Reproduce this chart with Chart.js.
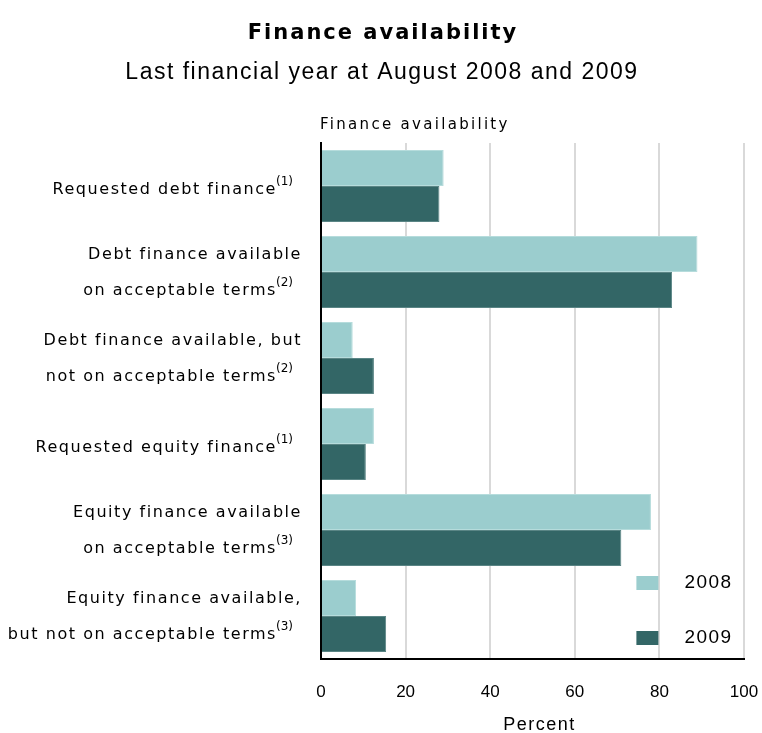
<!DOCTYPE html>
<html>
<head>
<meta charset="utf-8">
<script src="https://cdn.jsdelivr.net/npm/chart.js@4.4.0/dist/chart.umd.min.js"></script>
<style>
  html, body { margin: 0; padding: 0; background: #fff; }
  #chart { display: block; }
</style>
</head>
<body>
<canvas id="chart" width="762" height="733"></canvas>
<script>
// Survey categories, one line of text per entry; the footnote goes on the last line
const categoryLines = [
  ['Requested debt finance'],
  ['Debt finance available', 'on acceptable terms'],
  ['Debt finance available, but', 'not on acceptable terms'],
  ['Requested equity finance'],
  ['Equity finance available', 'on acceptable terms'],
  ['Equity finance available,', 'but not on acceptable terms']
];
const footnotes = ['(1)', '(2)', '(2)', '(1)', '(3)', '(3)'];

const years = ['2008', '2009'];
const values2008 = [29, 89, 7.5, 12.5, 78, 8.3];
const values2009 = [28, 83, 12.5, 10.6, 71, 15.4];
const percentTicks = [0, 20, 40, 60, 80, 100];

const titleText = 'Finance availability';
const subtitleText = 'Last financial year at August 2008 and 2009';
const axisCaption = 'Finance availability';
const xTitle = 'Percent';

const colour2008 = '#9bcdce';
const colour2009 = '#336666';

const labelFont = '"DejaVu Sans", sans-serif';
const plainFont = '"Liberation Sans", Arial, sans-serif';

// titles, category labels, axis title and the legend are drawn by hand
const textPlugin = {
  id: 'financeText',
  afterDraw(chart) {
    const ctx = chart.ctx;
    const area = chart.chartArea;
    const yScale = chart.scales.y;
    const xScale = chart.scales.x;
    ctx.save();
    ctx.fillStyle = '#000';
    ctx.textBaseline = 'middle';

    ctx.textAlign = 'center';
    ctx.font = 'bold 21px ' + labelFont;
    ctx.letterSpacing = '2px';
    ctx.fillText(titleText, 383, 34);

    ctx.font = '23px ' + plainFont;
    ctx.letterSpacing = '1.5px';
    ctx.fillText(subtitleText, 382, 73);

    ctx.textAlign = 'left';
    ctx.font = '15px ' + labelFont;
    ctx.letterSpacing = '2.3px';
    ctx.fillText(axisCaption, area.left - 1, 125);

    // category labels, right aligned against the axis
    categoryLines.forEach((lines, i) => {
      const cy = yScale.getPixelForValue(i);
      const lineGap = 36;
      const startY = cy - (lines.length - 1) * lineGap / 2 + (lines.length === 1 ? 4 : 1);
      lines.forEach((line, j) => {
        const ly = startY + j * lineGap;
        ctx.textAlign = 'right';
        if (j === lines.length - 1) {
          ctx.font = '12px ' + labelFont;
          ctx.letterSpacing = '0px';
          const noteW = ctx.measureText(footnotes[i]).width;
          ctx.fillText(footnotes[i], 293, ly - 8);
          ctx.font = '16px ' + labelFont;
          ctx.letterSpacing = '1.55px';
          ctx.fillText(line, 293 - noteW + 1, ly);
        } else {
          ctx.font = '16px ' + labelFont;
          ctx.letterSpacing = '1.55px';
          ctx.fillText(line, 302, ly);
        }
      });
    });

    // x axis title
    ctx.textAlign = 'center';
    ctx.font = '18px ' + plainFont;
    ctx.letterSpacing = '1.5px';
    ctx.fillText(xTitle, (area.left + area.right) / 2 + 7, 725);

    // legend, sitting inside the plot next to the 80% gridline
    const patchRight = xScale.getPixelForValue(80) - 1;
    const legendRows = [area.bottom - 76, area.bottom - 21];
    chart.data.datasets.forEach((ds, i) => {
      const ly = legendRows[i];
      ctx.fillStyle = ds.backgroundColor;
      ctx.fillRect(patchRight - 22, ly - 7, 22, 14);
      ctx.fillStyle = '#000';
      ctx.textAlign = 'left';
      ctx.font = '19px ' + plainFont;
      ctx.letterSpacing = '1.5px';
      ctx.fillText(ds.label, patchRight + 26, ly);
    });
    ctx.restore();
  }
};

new Chart(document.getElementById('chart'), {
  type: 'bar',
  data: {
    labels: categoryLines.map(l => l.join(' ')),
    datasets: [
      { label: years[0], data: values2008, backgroundColor: colour2008, borderColor: '#b6dcdc', borderWidth: 1 },
      { label: years[1], data: values2009, backgroundColor: colour2009, borderColor: '#5a8585', borderWidth: 1 }
    ]
  },
  options: {
    indexAxis: 'y',
    responsive: false,
    devicePixelRatio: 1,
    animation: false,
    layout: { padding: { top: 143, left: 321, right: 18, bottom: 0 } },
    plugins: {
      legend: { display: false },
      tooltip: { enabled: false }
    },
    datasets: {
      bar: { categoryPercentage: 0.84, barPercentage: 1 }
    },
    scales: {
      x: {
        min: 0,
        max: 100,
        afterBuildTicks: axis => { axis.ticks = percentTicks.map(v => ({ value: v })); },
        afterFit: axis => {
          axis.height = 74;
          axis.paddingLeft = 0;
          axis.paddingRight = 0;
        },
        grid: { color: '#d9d9d9', lineWidth: 2, drawTicks: false },
        border: { display: true, color: '#000', width: 2 },
        ticks: { padding: 23, color: '#000', maxRotation: 0, font: { family: plainFont, size: 17 } }
      },
      y: {
        grid: { display: false, drawTicks: false },
        border: { display: true, color: '#000', width: 2 },
        ticks: { display: false }
      }
    }
  },
  plugins: [textPlugin]
});
</script>
</body>
</html>
